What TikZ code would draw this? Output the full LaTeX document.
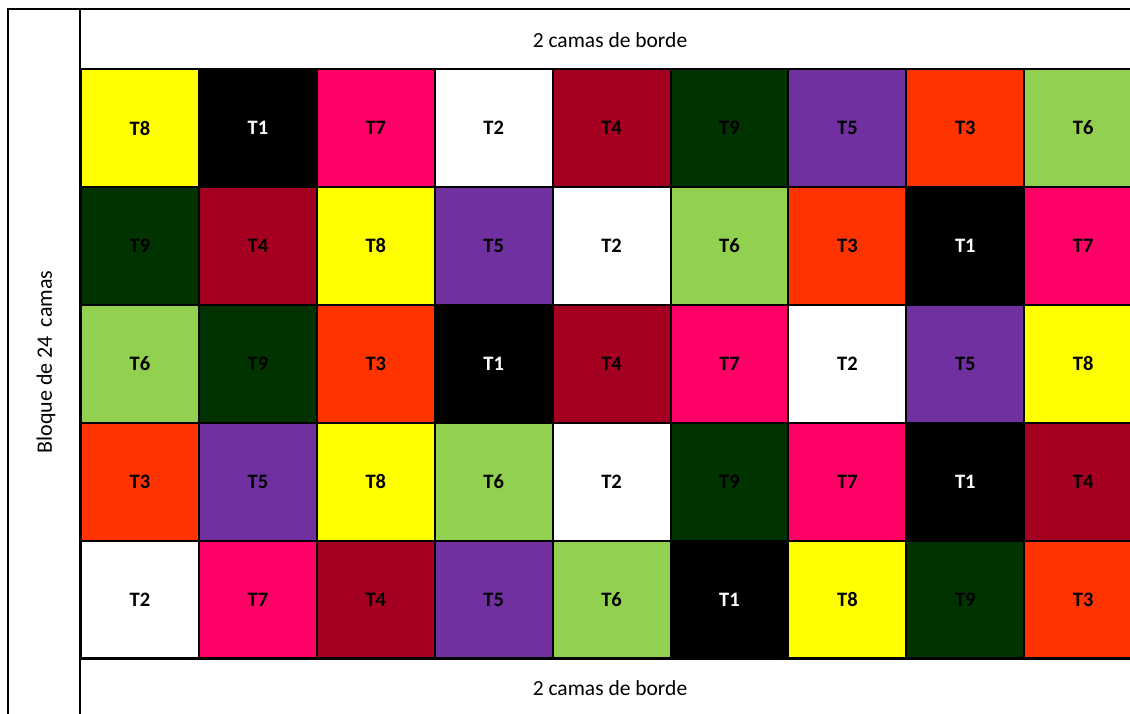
\documentclass[tikz,border=0pt]{standalone}
\usepackage{fontspec}
\setmainfont{Carlito}
\definecolor{cT1}{HTML}{000000}
\definecolor{cT2}{HTML}{FFFFFF}
\definecolor{cT3}{HTML}{FF3300}
\definecolor{cT4}{HTML}{A50021}
\definecolor{cT5}{HTML}{7030A0}
\definecolor{cT6}{HTML}{92D050}
\definecolor{cT7}{HTML}{FF0066}
\definecolor{cT8}{HTML}{FFFF00}
\definecolor{cT9}{HTML}{003300}
\tikzset{
  cellbox/.style={draw=black, line width=2pt, minimum width=118pt, minimum height=118pt, inner sep=0pt, anchor=north west, font=\fontsize{20.5}{24}\selectfont\bfseries},
  lbl/.style={font=\fontsize{21.5}{24}\selectfont, inner sep=0pt},
  frame/.style={line width=1.8pt, black}
}
\begin{document}
\begin{tikzpicture}[x=1pt,y=-1pt]
\useasboundingbox (0,0) rectangle (1130,713);
\clip (0,0) rectangle (1130,713);
\fill[white] (0,0) rectangle (1130,713);
\coordinate (tl) at (8,9);
\coordinate (bl) at (8,715);
\coordinate (tr) at (1135,9);
\coordinate (il) at (80,9);
\coordinate (ib) at (80,715);
\coordinate (br) at (1135,658);
\coordinate (gb) at (80,658);
\foreach \r/\row in {0/{8,1,7,2,4,9,5,3,6},1/{9,4,8,5,2,6,3,1,7},2/{6,9,3,1,4,7,2,5,8},3/{3,5,8,6,2,9,7,1,4},4/{2,7,4,5,6,1,8,9,3}}{
  \foreach \t [count=\c from 0] in \row {
    \ifnum\t=1
      \node[cellbox, fill=cT\t, text=white] (c\r-\c) at ({80+\c*117.9},{68+\r*117.9}) {T\t};
    \else
      \node[cellbox, fill=cT\t, text=black] (c\r-\c) at ({80+\c*117.9},{68+\r*117.9}) {T\t};
    \fi
  }
}
\draw[frame] (bl) -- (tl) -- (tr);
\draw[frame] (il) -- (ib);
\draw[frame] (gb) -- (br);
\node[lbl] (top) at (610,40) {2 camas de borde};
\node[lbl] (bot) at (610,688) {2 camas de borde};
\node[lbl, font=\fontsize{22}{24}\selectfont, rotate=90] (side) at (46,362) {Bloque de 24\hspace{0.4em}camas};
\end{tikzpicture}
\end{document}
